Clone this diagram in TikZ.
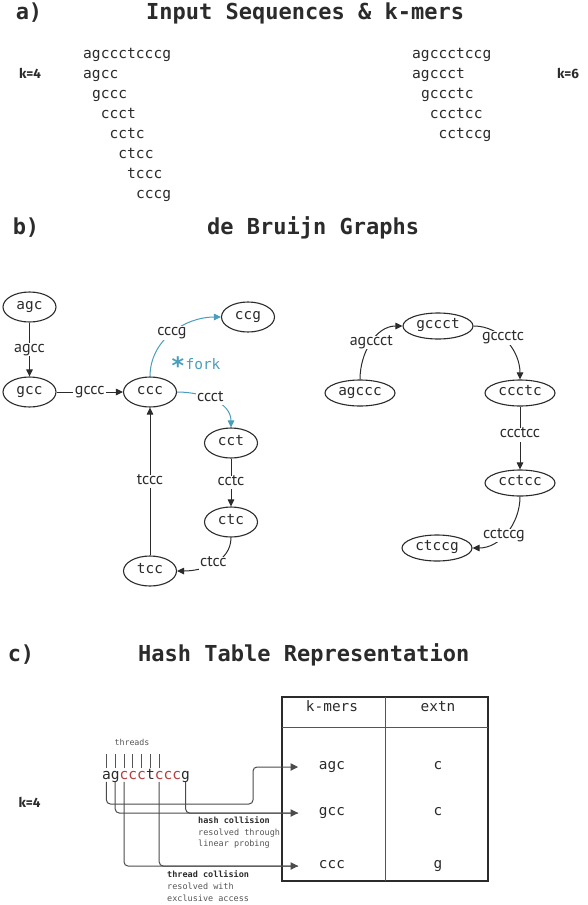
\documentclass[tikz,border=0pt]{standalone}
\usepackage{fontspec}
\setmainfont{PT Sans}
\setmonofont{DejaVu Sans Mono}
\newfontfamily\kfont{Fira Sans}
\newfontfamily\starfont{DejaVu Sans}
\usetikzlibrary{arrows.meta,shapes.geometric}

\definecolor{ink}{HTML}{2B2B2B}
\definecolor{rulegrey}{HTML}{555555}
\definecolor{forkteal}{HTML}{4A9EBB}
\definecolor{hit}{HTML}{B5403F}
\definecolor{soft}{HTML}{555555}

\tikzset{
  tx/.style={inner sep=0pt, text height=.75em, text depth=.2em},
  heading/.style={tx, font=\ttfamily\bfseries\fontsize{22}{26}\selectfont, text=ink},
  klabel/.style={tx, font=\kfont\bfseries\fontsize{13.5}{16}\selectfont, text=ink},
  seq/.style={tx, anchor=west, font=\ttfamily\fontsize{14.6}{17}\selectfont, text=ink},
  vert/.style={tx, ellipse, draw=ink, line width=1.1pt, text=ink,
    font=\ttfamily\fontsize{14.4}{17}\selectfont,
    minimum width=53pt, minimum height=30pt},
  longvert/.style={vert, minimum width=70pt, minimum height=26pt},
  edge/.style={draw=ink, line width=1pt, -{Triangle[length=7pt,width=6.5pt]}},
  forkedge/.style={edge, draw=forkteal},
  elabel/.style={tx, fill=white, inner xsep=1.5pt, inner ysep=2pt, text=ink,
    font=\fontsize{16}{18}\selectfont},
  cell/.style={tx, font=\ttfamily\fontsize{14.4}{17}\selectfont, text=ink},
  letter/.style={tx, font=\ttfamily\fontsize{14.6}{17}\selectfont, text=ink},
  note/.style={tx, anchor=west, font=\ttfamily\fontsize{8.5}{10}\selectfont, text=soft},
  probe/.style={draw=ink!85, line width=1pt, rounded corners=4pt},
  probearrow/.style={probe, -{Triangle[length=7.5pt,width=7.5pt]}},
}

\begin{document}
\begin{tikzpicture}[x=1pt, y=1pt]
\useasboundingbox (0,0) rectangle (587,-905);

% ---------------- a) input sequences and their k-mers
\node[heading] (la) at (29,-17) {a)};
\node[heading, anchor=west] (ha) at (146,-17) {Input Sequences \& k-mers};

\node[klabel] (k4a) at (30,-76) {k=4};
\node[seq] (r0) at (83,-56)  {agccctcccg};
\node[seq] (r1) at (83,-76)  {agcc};
\node[seq] (r2) at (91.8,-96)  {gccc};
\node[seq] (r3) at (100.6,-116) {ccct};
\node[seq] (r4) at (109.4,-136) {cctc};
\node[seq] (r5) at (118.2,-156) {ctcc};
\node[seq] (r6) at (127,-176) {tccc};
\node[seq] (r7) at (135.8,-196) {cccg};

\node[klabel] (k6a) at (568,-76) {k=6};
\node[seq] (q0) at (412,-56)  {agccctccg};
\node[seq] (q1) at (412,-76)  {agccct};
\node[seq] (q2) at (420.8,-96)  {gccctc};
\node[seq] (q3) at (429.6,-116) {ccctcc};
\node[seq] (q4) at (438.4,-136) {cctccg};

% ---------------- b) de Bruijn graphs
\node[heading] (lb) at (26,-232) {b)};
\node[heading, anchor=west] (hb) at (207,-232) {de Bruijn Graphs};

% k=4 graph
\node[vert] (agc) at (29.5,-307) {agc};
\node[vert] (gcc) at (29.5,-392) {gcc};
\node[vert] (ccc) at (150,-392) {ccc};
\node[vert] (ccg) at (248,-317) {ccg};
\node[vert] (cct) at (231,-443) {cct};
\node[vert] (ctc) at (231,-522) {ctc};
\node[vert] (tcc) at (150,-571) {tcc};

\draw[edge] (agc) -- node[elabel] {agcc} (gcc);
\draw[edge] (gcc) -- node[elabel] {gccc} (ccc);
\draw[forkedge] (ccc.north) to[out=90,in=180] node[elabel,pos=.5] {cccg} (ccg.west);
\draw[forkedge] (ccc.east) to[out=0,in=90] node[elabel,pos=.45] {ccct} (cct.north);
\draw[edge] (cct) -- node[elabel] {cctc} (ctc);
\draw[edge] (ctc.south) to[out=-90,in=0] node[elabel,pos=.5] {ctcc} (tcc.east);
\draw[edge] (tcc) -- node[elabel] {tccc} (ccc);

\node[anchor=base, inner sep=0pt, text=forkteal,
      font=\starfont\bfseries\fontsize{24}{26}\selectfont] (star) at (178,-374) {*};
\node[tx, text=forkteal, font=\ttfamily\fontsize{14.5}{17}\selectfont] (fork) at (203,-367) {fork};

% k=6 graph
\node[longvert] (agccc) at (360,-393) {agccc};
\node[longvert] (gccct) at (438,-326) {gccct};
\node[longvert] (ccctc) at (520,-393) {ccctc};
\node[longvert] (cctcc) at (520,-483) {cctcc};
\node[longvert] (ctccg) at (437,-548) {ctccg};

\draw[edge] (agccc.north) to[out=90,in=180] node[elabel,pos=.5] {agccct} (gccct.west);
\draw[edge] (gccct.east) to[out=0,in=90] node[elabel,pos=.42] {gccctc} (ccctc.north);
\draw[edge] (ccctc) -- node[elabel,pos=.45] {ccctcc} (cctcc);
\draw[edge] (cctcc.south) to[out=-90,in=0] node[elabel,pos=.55] {cctccg} (ctccg.east);

% ---------------- c) hash table
\node[heading] (lc) at (21,-659) {c)};
\node[heading, anchor=west] (hc) at (138,-659) {Hash Table Representation};

\node[klabel] (k4c) at (29.5,-805) {k=4};

% the input read, one node per base
\node[letter] (s1)  at (106.4,-777) {a};
\node[letter] (s2)  at (115.2,-777) {g};
\node[letter, text=hit] (s3)  at (124.0,-777) {c};
\node[letter, text=hit] (s4)  at (132.8,-777) {c};
\node[letter, text=hit] (s5)  at (141.6,-777) {c};
\node[letter] (s6)  at (150.4,-777) {t};
\node[letter, text=hit] (s7)  at (159.2,-777) {c};
\node[letter, text=hit] (s8)  at (168.0,-777) {c};
\node[letter, text=hit] (s9)  at (176.8,-777) {c};
\node[letter] (s10) at (185.6,-777) {g};

\node[tx, font=\ttfamily\fontsize{8.3}{10}\selectfont, text=soft] (threads) at (132,-743) {threads};
\foreach \i in {1,...,7}
  \draw[draw=ink!80, line width=1pt] ([yshift=4pt]s\i.north) -- ++(0,14);

% table
\draw[draw=ink, line width=2pt] (282,-697) rectangle (488,-881);
\draw[draw=rulegrey, line width=1pt] (282,-727) -- (488,-727);
\draw[draw=rulegrey, line width=1pt] (385,-697) -- (385,-881);

\node[cell] (hk) at (332,-709) {k-mers};
\node[cell] (he) at (438,-709) {extn};
\node[cell] (t1) at (332,-767) {agc};
\node[cell] (e1) at (438,-767) {c};
\node[cell] (t2) at (332,-813) {gcc};
\node[cell] (e2) at (438,-813) {c};
\node[cell] (t3) at (332,-866) {ccc};
\node[cell] (e3) at (438,-866) {g};

\coordinate (in1) at (298,-767);
\coordinate (in2) at (298,-813);
\coordinate (in3) at (298,-866);
\coordinate (jog) at (253,-804);

% threads writing their k-mers into the table
\draw[probearrow] (s1.south) |- (jog) |- (in1);
\draw[probearrow] (s2.south) |- (in2);
\draw[probe] (s10.south) |- (in2);
\draw[probearrow] (s3.south) |- (in3);
\draw[probe] (s7.south) |- (in3);

\node[note, font=\ttfamily\bfseries\fontsize{8.5}{10}\selectfont, text=ink] (hc1) at (198,-821) {hash collision};
\node[note] (hc2) at (198,-833) {resolved through};
\node[note] (hc3) at (198,-844) {linear probing};

\node[note, font=\ttfamily\bfseries\fontsize{8.5}{10}\selectfont, text=ink] (tc1) at (167,-875) {thread collision};
\node[note] (tc2) at (167,-887) {resolved with};
\node[note] (tc3) at (167,-899) {exclusive access};
\end{tikzpicture}
\end{document}
